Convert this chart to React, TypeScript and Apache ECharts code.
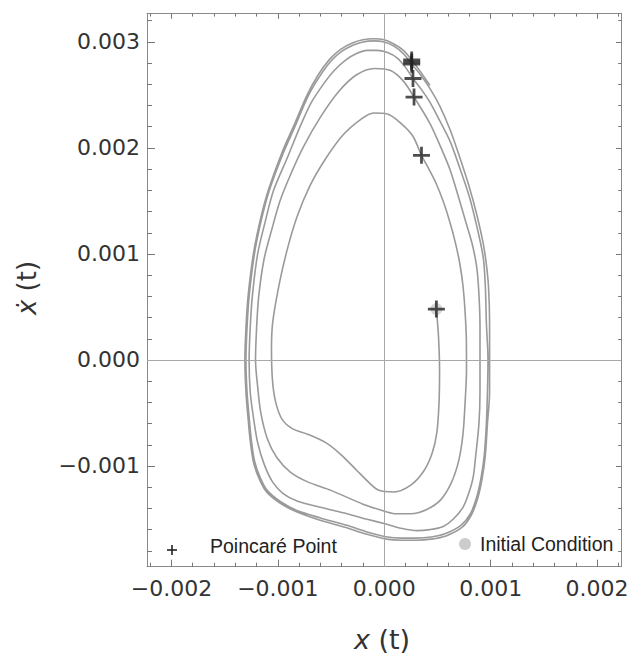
import React, { useEffect, useRef } from "react";
import * as echarts from "echarts";

// Axis ranges and tick values
const xRange = [-0.00223, 0.00223];
const yRange = [-0.00195, 0.00327];
const xMajorTicks = [-0.002, -0.001, 0, 0.001, 0.002];
const xMinorTicks = [-0.0022, -0.0018, -0.0016, -0.0014, -0.0012, -0.0008, -0.0006, -0.0004, -0.0002, 0.0002, 0.0004, 0.0006, 0.0008, 0.0012, 0.0014, 0.0016, 0.0018, 0.0022];
const yMajorTicks = [-0.001, 0, 0.001, 0.002, 0.003];
const yMinorTicks = [-0.0018, -0.0016, -0.0014, -0.0012, -0.0008, -0.0006, -0.0004, -0.0002, 0.0002, 0.0004, 0.0006, 0.0008, 0.0012, 0.0014, 0.0016, 0.0018, 0.0022, 0.0024, 0.0026, 0.0028, 0.0032];

// Trajectory (x, xdot), read loop by loop, clockwise from the initial condition
const loop1 = [
  [0.00049, 0.00048], [0.00051, 0.00022], [0.00052, -0.0001], [0.000515, -0.0004],
  [0.000495, -0.00068], [0.00045, -0.00088], [0.00037, -0.00105], [0.00025, -0.00118],
  [0.00009, -0.001245], [-0.00005, -0.00123], [-0.00015, -0.00115], [-0.00026, -0.00104],
  [-0.00041, -0.00089], [-0.00055, -0.00078], [-0.00072, -0.0007], [-0.00086, -0.00065],
  [-0.00096, -0.00056], [-0.00102, -0.0004], [-0.00105, -0.0002], [-0.00106, 0.0001],
  [-0.00105, 0.00034], [-0.001, 0.00065], [-0.00092, 0.00101], [-0.00082, 0.00135],
  [-0.0007, 0.00164], [-0.00055, 0.0019], [-0.00039, 0.00212], [-0.00022, 0.00227],
  [-0.0001, 0.00233], [0.00003, 0.00232], [0.00016, 0.00223], [0.00027, 0.00211],
  [0.00035, 0.00193], [0.00042, 0.0018], [0.00049, 0.00166], [0.00056, 0.00148],
  [0.00062, 0.00129], [0.00067, 0.0011], [0.00071, 0.00091], [0.00074, 0.0007],
  [0.00076, 0.00045], [0.000772, 0.00018],
];
const loop2 = [
  [0.000773, -0.0001], [0.00076, -0.0004], [0.00074, -0.0007], [0.0007, -0.00095],
  [0.00063, -0.00116], [0.00053, -0.00132], [0.0004, -0.00141], [0.00025, -0.00145],
  [0.0001, -0.00145], [-0.00005, -0.00141], [-0.0002, -0.00136], [-0.0005, -0.00123],
  [-0.00072, -0.00115], [-0.00088, -0.00106], [-0.00101, -0.00092], [-0.0011, -0.00074],
  [-0.00116, -0.0005], [-0.00119, -0.00025], [-0.00121, 0.0], [-0.0012, 0.0003],
  [-0.00118, 0.0006], [-0.00113, 0.00095], [-0.00106, 0.00122], [-0.00098, 0.0015],
  [-0.00088, 0.00175], [-0.00076, 0.00201], [-0.0006, 0.00229], [-0.00043, 0.00253],
  [-0.00026, 0.00269], [-0.00009, 0.00275], [0.00006, 0.00273], [0.00018, 0.00263],
  [0.00028, 0.00248], [0.00043, 0.00223], [0.00053, 0.00201], [0.00062, 0.00179],
  [0.0007, 0.00153], [0.00077, 0.00129], [0.00083, 0.00108], [0.00087, 0.00087],
  [0.00089, 0.00062], [0.0009, 0.00032],
];
const loop3 = [
  [0.0009, 0.0], [0.0009, -0.0003], [0.00089, -0.0006], [0.00086, -0.0009],
  [0.000835, -0.00111], [0.00079, -0.00127], [0.00074, -0.00139], [0.00065, -0.0015],
  [0.000555, -0.00157], [0.00043, -0.0016], [0.000305, -0.00161], [0.00017, -0.00159],
  [0.000025, -0.00155], [-0.00017, -0.0015], [-0.00035, -0.00145], [-0.0006, -0.00139],
  [-0.00082, -0.00133], [-0.00095, -0.00126], [-0.00105, -0.00115], [-0.00113, -0.00098],
  [-0.00119, -0.00078], [-0.00123, -0.00054], [-0.00126, -0.0003], [-0.00127, 0.0],
  [-0.00126, 0.0003], [-0.00124, 0.0006], [-0.00119, 0.001], [-0.00112, 0.0013],
  [-0.00104, 0.0016], [-0.00091, 0.00191], [-0.0008, 0.00218], [-0.00069, 0.00242],
  [-0.00058, 0.00259], [-0.00047, 0.00273], [-0.00036, 0.00283], [-0.00026, 0.00289],
  [-0.00016, 0.00292], [-0.00007, 0.00292], [0.00003, 0.0029], [0.00012, 0.00285],
  [0.0002, 0.00276], [0.00027, 0.002655], [0.00035, 0.00255], [0.00043, 0.00243],
  [0.00052, 0.00226], [0.00062, 0.00206], [0.00071, 0.00181], [0.0008, 0.00154],
  [0.00087, 0.00126], [0.00093, 0.00097], [0.00095, 0.0007], [0.00096, 0.00035],
];
const loop4 = [
  [0.000975, 0.0], [0.00097, -0.0003], [0.00096, -0.0006], [0.00094, -0.0009],
  [0.00091, -0.00111], [0.00087, -0.00129], [0.00081, -0.00145], [0.00072, -0.00156],
  [0.00057, -0.00164], [0.00044, -0.00167], [0.0003, -0.00168], [0.00016, -0.00168],
  [0.00003, -0.00167], [-0.00017, -0.00162], [-0.00035, -0.00156], [-0.0006, -0.00149],
  [-0.00082, -0.00142], [-0.00097, -0.00134], [-0.0011, -0.00123], [-0.00117, -0.0011],
  [-0.00122, -0.00095], [-0.00125, -0.00075], [-0.00127, -0.00054], [-0.00129, -0.0003],
  [-0.0013, 0.0], [-0.00129, 0.0003], [-0.00127, 0.0006], [-0.00122, 0.001],
  [-0.00116, 0.0013], [-0.00108, 0.0016], [-0.00095, 0.00195], [-0.00084, 0.0022],
  [-0.00072, 0.00248], [-0.00061, 0.00267], [-0.0005, 0.00282], [-0.0004, 0.00291],
  [-0.00029, 0.00297], [-0.0002, 0.003], [-0.0001, 0.00301], [0.0, 0.003],
  [0.00009, 0.00296], [0.00018, 0.00289], [0.000258, 0.00279], [0.00034, 0.00269],
  [0.00043, 0.00256], [0.00052, 0.0024], [0.00062, 0.00217], [0.00071, 0.00191],
  [0.0008, 0.00163], [0.00087, 0.00137], [0.00093, 0.0011], [0.00096, 0.0009],
  [0.00098, 0.00069], [0.00099, 0.00035],
];
const loop5 = [
  [0.00099, 0.0], [0.00099, -0.0003], [0.00097, -0.0006], [0.00095, -0.0009],
  [0.00092, -0.00112], [0.00088, -0.0013], [0.00082, -0.00146], [0.00073, -0.00158],
  [0.00058, -0.00166], [0.00044, -0.00169], [0.0003, -0.0017], [0.00016, -0.0017],
  [0.00002, -0.00169], [-0.00018, -0.00164], [-0.00036, -0.00158], [-0.00061, -0.00151],
  [-0.00083, -0.00143], [-0.00098, -0.00135], [-0.00111, -0.00124], [-0.00118, -0.00111],
  [-0.00123, -0.00096], [-0.00126, -0.00076], [-0.00128, -0.00055], [-0.0013, -0.0003],
  [-0.00131, 0.0], [-0.0013, 0.0003], [-0.00128, 0.0006], [-0.00123, 0.001],
  [-0.00117, 0.0013], [-0.00109, 0.0016], [-0.00096, 0.00196], [-0.00085, 0.00221],
  [-0.00073, 0.00249], [-0.00062, 0.00269], [-0.00051, 0.00284], [-0.00041, 0.00293],
  [-0.0003, 0.00299], [-0.0002, 0.00302], [-0.0001, 0.00303], [0.0, 0.00302],
  [0.00009, 0.00298], [0.00018, 0.00292], [0.000258, 0.00283], [0.00034, 0.00272],
  [0.00043, 0.00259],
];

const poincarePoints = [
  [0.00049, 0.00048],
  [0.00035, 0.00193],
  [0.00028, 0.00248],
  [0.00027, 0.002655],
  [0.000258, 0.00279],
  [0.000258, 0.00281],
  [0.000258, 0.00283],
];
const initialCondition = [[0.00049, 0.00048]];

const xTitle = "x";
const yTitle = "ẋ";
const legendLabels = ["Poincaré Point", "Initial Condition"];

const TICK_FONT = "DejaVu Sans";
const frameColor = "#8a8a8a";

const fmt = (v: number) => (v < 0 ? "\u2212" : "") + Math.abs(v).toFixed(3);

function makeX(position: "bottom" | "top", major: boolean) {
  const isBottom = position === "bottom";
  return {
    type: "value",
    min: xRange[0],
    max: xRange[1],
    position,
    axisLine: { show: major, onZero: false, lineStyle: { color: frameColor, width: 1 } },
    axisTick: {
      show: true,
      inside: true,
      length: major ? (isBottom ? 7 : 5.5) : isBottom ? 4 : 3.3,
      customValues: major ? xMajorTicks : xMinorTicks,
      lineStyle: { color: "#777", width: 1 },
    },
    axisLabel: isBottom && major
      ? {
          show: true,
          customValues: xMajorTicks,
          formatter: fmt,
          fontFamily: TICK_FONT,
          fontSize: 22,
          color: "#333",
          margin: 11,
          showMinLabel: true,
          showMaxLabel: true,
        }
      : { show: false },
    splitLine: { show: false },
    minorTick: { show: false },
  };
}

function makeY(position: "left" | "right", major: boolean) {
  const isLeft = position === "left";
  return {
    type: "value",
    min: yRange[0],
    max: yRange[1],
    position,
    axisLine: { show: major, onZero: false, lineStyle: { color: frameColor, width: 1 } },
    axisTick: {
      show: true,
      inside: true,
      length: major ? (isLeft ? 8 : 5.5) : isLeft ? 5 : 3.3,
      customValues: major ? yMajorTicks : yMinorTicks,
      lineStyle: { color: "#777", width: 1 },
    },
    axisLabel: isLeft && major
      ? {
          show: true,
          customValues: yMajorTicks,
          formatter: fmt,
          fontFamily: TICK_FONT,
          fontSize: 22,
          color: "#333",
          margin: 7,
        }
      : { show: false },
    splitLine: { show: false },
    minorTick: { show: false },
  };
}

const PLUS = "path://M6.7,0H9.3V6.7H16V9.3H9.3V16H6.7V9.3H0V6.7H6.7Z";

export default function App() {
  const ref = useRef<HTMLDivElement>(null);
  useEffect(() => {
    if (!ref.current) return;
    const chart = echarts.init(ref.current, null, { renderer: "svg" });
    const trajectory = [...loop1, ...loop2, ...loop3, ...loop4, ...loop5];
    chart.setOption({
      animation: false,
      backgroundColor: "#ffffff",
      grid: { left: 147, right: 7.5, top: 13.3, bottom: 88.3, containLabel: false, outerBoundsMode: "none" },
      xAxis: [makeX("bottom", true), makeX("bottom", false), makeX("top", true), makeX("top", false)],
      yAxis: [makeY("left", true), makeY("left", false), makeY("right", true), makeY("right", false)],
      series: [
        {
          type: "line",
          xAxisIndex: 0,
          yAxisIndex: 0,
          data: trajectory,
          smooth: 0.3,
          showSymbol: false,
          symbol: "none",
          silent: true,
          lineStyle: { color: "#9a9a9a", width: 1.6 },
          z: 2,
          markLine: {
            silent: true,
            symbol: ["none", "none"],
            label: { show: false },
            lineStyle: { color: "#a8a8a8", width: 1, type: "solid" },
            emphasis: { disabled: true },
            data: [{ xAxis: 0 }, { yAxis: 0 }],
          },
        },
        {
          type: "scatter",
          xAxisIndex: 0,
          yAxisIndex: 0,
          data: initialCondition,
          symbol: "circle",
          symbolSize: 12,
          silent: true,
          itemStyle: { color: "#cccccc" },
          z: 3,
        },
        {
          type: "scatter",
          xAxisIndex: 0,
          yAxisIndex: 0,
          data: poincarePoints,
          symbol: PLUS,
          symbolSize: 17,
          silent: true,
          itemStyle: { color: "#222222" },
          z: 4,
        },
      ],
      graphic: [
        {
          type: "group",
          x: 172,
          y: 550,
          children: [
            { type: "line", shape: { x1: -5, y1: 0, x2: 5, y2: 0 }, style: { stroke: "#222", lineWidth: 1.6 } },
            { type: "line", shape: { x1: 0, y1: -5, x2: 0, y2: 5 }, style: { stroke: "#222", lineWidth: 1.6 } },
          ],
        },
        {
          type: "text",
          x: 210,
          y: 546,
          style: {
            text: legendLabels[0],
            fontFamily: "Liberation Sans",
            fontSize: 19.5,
            fill: "#222",
            align: "left",
            verticalAlign: "middle",
          },
        },
        { type: "circle", shape: { cx: 465, cy: 544, r: 6 }, style: { fill: "#cccccc" } },
        {
          type: "text",
          x: 480,
          y: 544,
          style: {
            text: legendLabels[1],
            fontFamily: "Liberation Sans",
            fontSize: 19.5,
            fill: "#222",
            align: "left",
            verticalAlign: "middle",
          },
        },
        {
          type: "text",
          x: 382,
          y: 639,
          style: {
            text: "{i|" + xTitle + "} (t)",
            fontFamily: TICK_FONT,
            fontSize: 27,
            fill: "#333",
            align: "center",
            verticalAlign: "middle",
            rich: { i: { fontStyle: "italic", fontFamily: TICK_FONT, fontSize: 27, fill: "#333" } },
          },
        },
        {
          type: "text",
          x: 27,
          y: 288,
          rotation: Math.PI / 2,
          style: {
            text: "{i|" + yTitle + "} (t)",
            fontFamily: TICK_FONT,
            fontSize: 26,
            fill: "#333",
            align: "center",
            verticalAlign: "middle",
            rich: { i: { fontStyle: "italic", fontFamily: TICK_FONT, fontSize: 26, fill: "#333" } },
          },
        },
      ],
    });
    return () => chart.dispose();
  }, []);
  return (
    <div
      ref={ref}
      style={{ position: "absolute", left: 0, top: 0, width: 629, height: 655 }}
    />
  );
}
